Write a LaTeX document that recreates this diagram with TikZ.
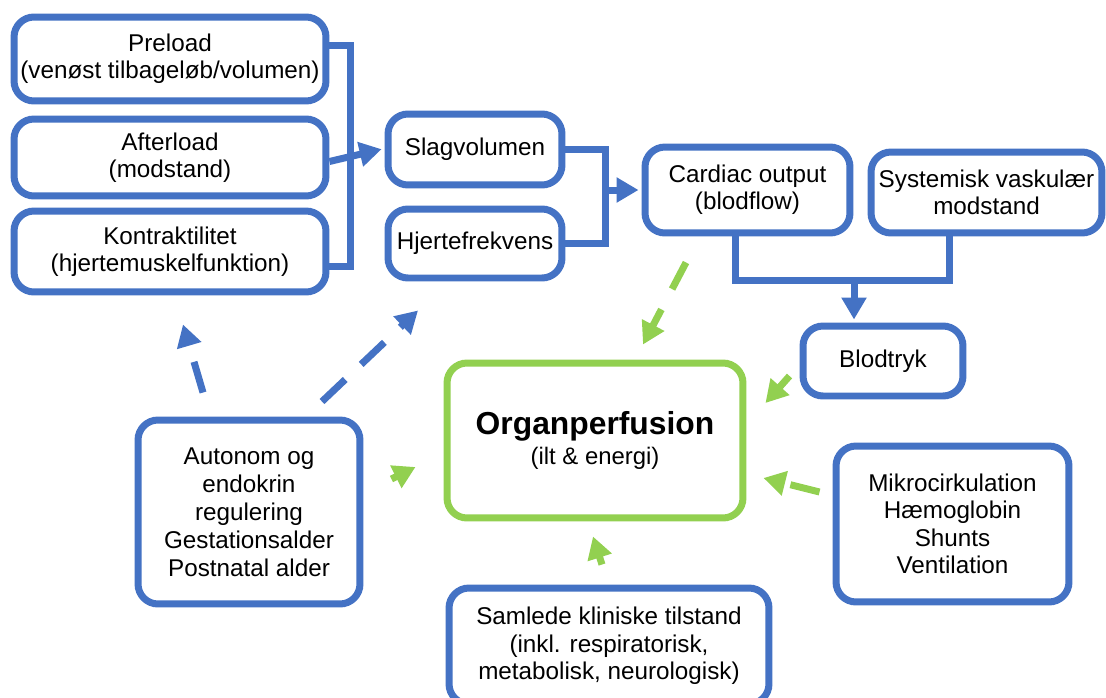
\documentclass[tikz,border=0pt]{standalone}
\usepackage{fontspec}
\setmainfont{Liberation Sans}
\usetikzlibrary{arrows.meta}

\definecolor{boxblue}{RGB}{68,114,196}
\definecolor{boxgreen}{RGB}{146,208,80}
\newcommand{\boxfont}{\fontsize{13.8}{15.6}\selectfont}

\tikzset{
    box/.style      = {draw = boxblue, line width = 0.14cm, rounded corners = 0.4cm,
                       fill = white, align = center, font = \boxfont, inner sep = 0pt},
    greenbox/.style = {box, draw = boxgreen},
    link/.style     = {draw = boxblue, line width = 0.14cm},
    arr/.style      = {link, -{Triangle[length = 0.44cm, width = 0.48cm]}},
    bluedash/.style = {arr, dash pattern = on 0.64cm off 0.44cm},
    greendash/.style= {arr, draw = boxgreen, dash pattern = on 0.6cm off 0.46cm},
}

\begin{document}
\begin{tikzpicture}[x = 0.02cm, y = -0.02cm]
    \useasboundingbox (0, 0) rectangle (1106, 697);

    % Left column: what sets the stroke volume
    \node (preload) [box, minimum width = 6.24cm, minimum height = 1.68cm] at (170,  59.0)
        {Preload\\(venøst tilbageløb/volumen)};
    \node (after)   [box, minimum width = 6.24cm, minimum height = 1.54cm] at (170, 157.5)
        {Afterload\\(modstand)};
    \node (kontra)  [box, minimum width = 6.24cm, minimum height = 1.62cm] at (170, 251.5)
        {Kontraktilitet\\(hjertemuskelfunktion)};

    % Middle column
    \node (slag)   [box, minimum width = 3.48cm, minimum height = 1.42cm] at (475, 149.5) {Slagvolumen};
    \node (hjerte) [box, minimum width = 3.48cm, minimum height = 1.38cm] at (475, 243.5) {Hjertefrekvens};

    % Right part: flow, resistance and pressure
    \node (cardiac) [box, minimum width = 4.10cm, minimum height = 1.72cm] at (747.5, 190.0)
        {Cardiac output\\(blodflow)};
    \node (system)  [box, minimum width = 4.62cm, minimum height = 1.62cm] at (986.5, 192.5)
        {Systemisk vaskulær\\modstand};
    \node (blod)    [box, minimum width = 3.20cm, minimum height = 1.40cm] at (883, 361) {Blodtryk};

    % The centre: organ perfusion
    \node (organ) [greenbox, minimum width = 5.92cm, minimum height = 3.10cm,
                   font = \fontsize{13.6}{17}\selectfont] at (595, 440.5)
        {{\fontsize{18.1}{17}\selectfont\bfseries Organperfusion}\\(ilt \& energi)};

    % Other influences
    \node (autonom) [box, minimum width = 4.44cm, minimum height = 3.68cm,
                     font = \fontsize{13.8}{15.9}\selectfont] at (249, 512)
        {Autonom og\\endokrin\\regulering\\Gestationsalder\\Postnatal alder};
    \node (mikro)   [box, minimum width = 4.66cm, minimum height = 3.12cm] at (952.5, 524)
        {Mikrocirkulation\\Hæmoglobin\\Shunts\\Ventilation};
    \node (samlede) [box, minimum width = 6.40cm, minimum height = 2.32cm] at (609, 646)
        {Samlede kliniske tilstand\\(inkl. respiratorisk,\\metabolisk, neurologisk)};

    % Preload, afterload and contractility give the stroke volume
    \draw[link] ([yshift = 0.28cm]preload.east) -- ++(21, 0) |- ([yshift = -0.3cm]kontra.east);
    \draw[arr, shorten >= 0.06cm] ([yshift = -0.08cm]after.east) -- ([yshift = 0.02cm]slag.west);

    % Stroke volume and heart rate give the cardiac output
    \draw[link] (slag.east) -- ++(40, 0) coordinate (hjoin) |- (hjerte.east);
    \draw[arr, shorten >= 0.06cm] (hjoin |- cardiac.west) -- (cardiac.west);

    % Cardiac output and resistance give the blood pressure
    \draw[link] ([xshift = -0.25cm]cardiac.south) -- ++(0, 44) coordinate (bjoin)
        -| ([xshift = -0.75cm]system.south);
    \coordinate (bin) at ([xshift = -0.58cm]blod.north);
    \draw[arr, shorten >= 0.06cm] (bin |- bjoin) -- (bin);

    % Autonomic regulation acts on the heart
    \draw[bluedash] ([xshift = -0.92cm, yshift = 0.48cm]autonom.north)
        -- ([xshift = 0.26cm, yshift = -0.58cm]kontra.south);
    \draw[bluedash] ([xshift = 1.46cm, yshift = 0.3cm]autonom.north)
        -- ([xshift = -1.14cm, yshift = -0.58cm]hjerte.south);

    % Everything feeds the organ perfusion
    \draw[greendash] ([xshift = -1.23cm, yshift = -0.52cm]cardiac.south)
        -- ([xshift = 0.96cm, yshift = 0.3cm]organ.north);
    \draw[greendash] ([xshift = -0.2cm, yshift = -0.3cm]blod.west)
        -- ([xshift = 0.38cm, yshift = 0.75cm]organ.east);
    \draw[greendash] ([xshift = -0.26cm, yshift = 0.64cm]mikro.west)
        -- ([xshift = 0.34cm, yshift = -0.75cm]organ.east);
    \draw[greendash] ([xshift = 0.56cm, yshift = 0.66cm]autonom.east)
        -- ([xshift = -0.56cm, yshift = -0.53cm]organ.west);
    \draw[greendash] ([xshift = -0.14cm, yshift = 0.4cm]samlede.north)
        -- ([xshift = -0.04cm, yshift = -0.3cm]organ.south);
\end{tikzpicture}
\end{document}
